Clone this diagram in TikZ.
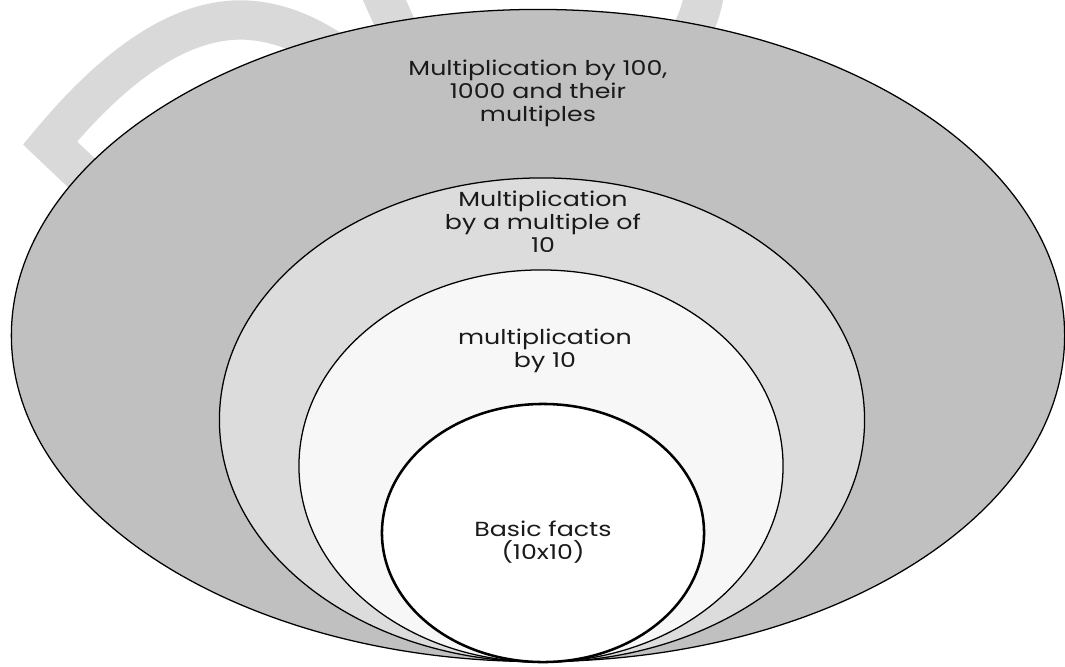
\documentclass[tikz,border=0pt]{standalone}
\usepackage{fontspec}
\setmainfont{Poppins}[FakeStretch=1.24]
\usetikzlibrary{shapes.geometric}
\definecolor{ringA}{HTML}{C0C0C0}
\definecolor{ringB}{HTML}{DCDCDC}
\definecolor{ringC}{HTML}{F7F7F7}
\definecolor{wmark}{HTML}{D9D9D9}
\definecolor{txt}{HTML}{1A1A1A}
\tikzset{
  ring/.style={ellipse, draw=black, line width=0.9pt, inner sep=0pt, outer sep=0pt},
  lbl/.style={align=center, text=txt, font=\fontsize{14.5}{16.4}\selectfont, inner sep=0pt},
  wm/.style={draw=wmark, line width=28pt, line cap=butt, line join=miter}
}
\begin{document}
\begin{tikzpicture}[x=0.025cm, y=-0.025cm]
\useasboundingbox (0,0) rectangle (1065,666);
% watermark (behind)
\draw[wm] (110,200) -- (50,143) .. controls (115,65) and (180,18) .. (245,20) .. controls (290,22) and (330,45) .. (370,80);
\draw[wm] (380,-10) -- (420,80);
\draw[wm] (705,-10) .. controls (700,20) and (690,40) .. (670,60);
% rings
\node[ring, fill=ringA, minimum width=26.325cm, minimum height=16.3cm] (r1) at (538,335.5) {};
\node[ring, fill=ringB, minimum width=16.125cm, minimum height=12.1cm] (r2) at (542,420) {};
\node[ring, fill=ringC, minimum width=12.1cm, minimum height=9.8cm] (r3) at (541,466) {};
\node[ring, fill=white, line width=1.8pt, minimum width=8.05cm, minimum height=6.45cm] (r4) at (543,533) {};
% labels
\node[lbl] (t1) at (538,93) {Multiplication by 100,\\1000 and their\\multiples};
\node[lbl] (t2) at (543,222) {Multiplication\\by a multiple of\\10};
\node[lbl] (t3) at (545,351) {multiplication\\by 10};
\node[lbl] (t4) at (543,542) {Basic facts\\(10x10)};
\end{tikzpicture}
\end{document}
